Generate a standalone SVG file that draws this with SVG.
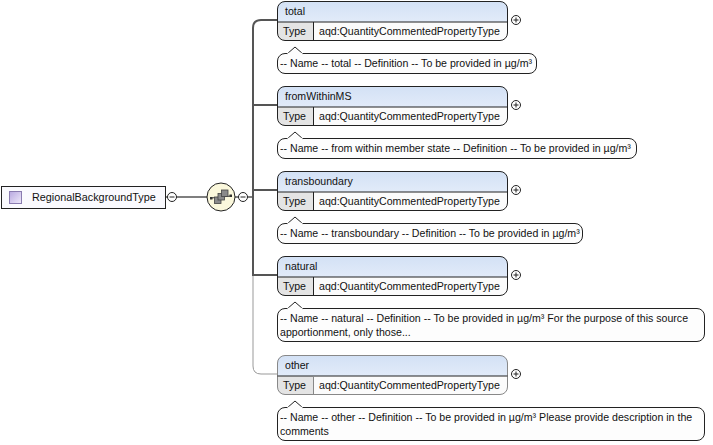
<svg xmlns="http://www.w3.org/2000/svg" width="713" height="445" viewBox="0 0 713 445">
<defs>
<linearGradient id="sq" x1="0" y1="0" x2="1" y2="1"><stop offset="0" stop-color="#b8a8e0"/><stop offset="1" stop-color="#efeafa"/></linearGradient>
<linearGradient id="hd" x1="0" y1="0" x2="0" y2="1"><stop offset="0" stop-color="#d3e1f5"/><stop offset="1" stop-color="#e2ebf9"/></linearGradient>
</defs>
<style>
text{font-family:"Liberation Sans",Arial,sans-serif;font-size:10.6px;fill:#111}
.eb{fill:none;stroke:#222;stroke-width:1}
.ebo{fill:none;stroke:#888;stroke-width:1}
.hd{fill:url(#hd)}
.tc{fill:#e4e4e4}
.vc{fill:#fbfbfb}
.sep{stroke:#222;stroke-width:1}
.sepo{stroke:#888;stroke-width:1}
.cm{fill:#fdfdfd;stroke:#222;stroke-width:1}
.pc{fill:#fff;stroke:#222;stroke-width:1}
.ln{fill:none;stroke:#555;stroke-width:2}
.lno{fill:none;stroke:#999;stroke-width:1}
.sqr{fill:#8a8a8a;stroke:#444;stroke-width:0.8}
</style>
<rect width="713" height="445" fill="#fff"/>

<g id="connectors">
<line x1="166" y1="197" x2="207" y2="197" class="ln" style="stroke-width:1.5"/>
<line x1="235" y1="197" x2="252" y2="197" class="ln" style="stroke-width:1.5"/>
<path d="M277,20 H261 Q253,20 253,28 V275 H277" class="ln"/>
<line x1="253" y1="105" x2="277" y2="105" class="ln"/>
<line x1="253" y1="190" x2="277" y2="190" class="ln"/>
<path d="M253,276 V366 Q253,374 261,374 H277" class="lno"/>
</g>

<g id="root">
<rect x="1.5" y="186.5" width="164" height="22" fill="#fafafe" stroke="#222"/>
<rect x="9.5" y="191.5" width="12" height="12" fill="url(#sq)" stroke="#8a7cb0"/>
<text x="32" y="201" style="font-size:10.8px">RegionalBackgroundType</text>
<circle cx="172" cy="197" r="4.5" class="pc"/>
<line x1="169.5" y1="197" x2="174.5" y2="197" stroke="#222"/>
</g>

<g id="sequence">
<ellipse cx="221" cy="197" rx="14" ry="14" fill="#fbf8dc" stroke="#222"/>
<line x1="211" y1="198" x2="231" y2="196" stroke="#333"/>
<rect x="210" y="197" width="2.5" height="2.5" fill="#333"/>
<rect x="229.5" y="194.5" width="2.5" height="2.5" fill="#333"/>
<rect x="214.5" y="197" width="6.5" height="6.5" class="sqr"/>
<rect x="218" y="193.5" width="6.5" height="6.5" class="sqr"/>
<rect x="221.5" y="190" width="6.5" height="6.5" class="sqr"/>
<circle cx="243" cy="197" r="4.5" class="pc"/>
<line x1="240.5" y1="197" x2="245.5" y2="197" stroke="#222"/>
</g>

<g id="total">
<path d="M277.5,22 V9 Q277.5,1.5 285,1.5 H500 Q507.5,1.5 507.5,9 V22 Z" class="hd"/>
<path d="M277.5,22 V33 Q277.5,40.5 285,40.5 H313.5 V22 Z" class="tc"/>
<path d="M313.5,22 V40.5 H500 Q507.5,40.5 507.5,33 V22 Z" class="vc"/>
<rect x="277.5" y="1.5" width="230" height="39" rx="7.5" class="eb"/>
<line x1="277.5" y1="22" x2="507.5" y2="22" class="sep"/>
<line x1="313.5" y1="22" x2="313.5" y2="40.5" class="sep"/>
<text x="285" y="15">total</text>
<text x="283" y="35">Type</text>
<text x="319" y="35">aqd:QuantityCommentedPropertyType</text>
<circle cx="516" cy="20" r="4.5" class="pc"/>
<path d="M513.5,20 H518.5 M516,17.5 V22.5" stroke="#222"/>
<rect x="277.5" y="53.5" width="259" height="20" rx="7.5" class="cm"/>
<path d="M287,54 L295,47 L303,54" class="cm"/>
<line x1="287.5" y1="53.5" x2="302.5" y2="53.5" stroke="#fdfdfd" stroke-width="1.4"/>
<text x="280" y="67">-- Name -- total -- Definition -- To be provided in µg/m³</text>
</g>

<g id="fromWithinMS">
<path d="M277.5,107 V94 Q277.5,86.5 285,86.5 H500 Q507.5,86.5 507.5,94 V107 Z" class="hd"/>
<path d="M277.5,107 V118 Q277.5,125.5 285,125.5 H313.5 V107 Z" class="tc"/>
<path d="M313.5,107 V125.5 H500 Q507.5,125.5 507.5,118 V107 Z" class="vc"/>
<rect x="277.5" y="86.5" width="230" height="39" rx="7.5" class="eb"/>
<line x1="277.5" y1="107" x2="507.5" y2="107" class="sep"/>
<line x1="313.5" y1="107" x2="313.5" y2="125.5" class="sep"/>
<text x="285" y="100">fromWithinMS</text>
<text x="283" y="120">Type</text>
<text x="319" y="120">aqd:QuantityCommentedPropertyType</text>
<circle cx="516" cy="105" r="4.5" class="pc"/>
<path d="M513.5,105 H518.5 M516,102.5 V107.5" stroke="#222"/>
<rect x="277.5" y="138.5" width="359" height="20" rx="7.5" class="cm"/>
<path d="M287,139 L295,132 L303,139" class="cm"/>
<line x1="287.5" y1="138.5" x2="302.5" y2="138.5" stroke="#fdfdfd" stroke-width="1.4"/>
<text x="280" y="152">-- Name -- from within member state -- Definition -- To be provided in µg/m³</text>
</g>

<g id="transboundary">
<path d="M277.5,192 V179 Q277.5,171.5 285,171.5 H500 Q507.5,171.5 507.5,179 V192 Z" class="hd"/>
<path d="M277.5,192 V203 Q277.5,210.5 285,210.5 H313.5 V192 Z" class="tc"/>
<path d="M313.5,192 V210.5 H500 Q507.5,210.5 507.5,203 V192 Z" class="vc"/>
<rect x="277.5" y="171.5" width="230" height="39" rx="7.5" class="eb"/>
<line x1="277.5" y1="192" x2="507.5" y2="192" class="sep"/>
<line x1="313.5" y1="192" x2="313.5" y2="210.5" class="sep"/>
<text x="285" y="185">transboundary</text>
<text x="283" y="205">Type</text>
<text x="319" y="205">aqd:QuantityCommentedPropertyType</text>
<circle cx="516" cy="190" r="4.5" class="pc"/>
<path d="M513.5,190 H518.5 M516,187.5 V192.5" stroke="#222"/>
<rect x="277.5" y="223.5" width="305" height="20" rx="7.5" class="cm"/>
<path d="M287,224 L295,217 L303,224" class="cm"/>
<line x1="287.5" y1="223.5" x2="302.5" y2="223.5" stroke="#fdfdfd" stroke-width="1.4"/>
<text x="280" y="237">-- Name -- transboundary -- Definition -- To be provided in µg/m³</text>
</g>

<g id="natural">
<path d="M277.5,277 V264 Q277.5,256.5 285,256.5 H500 Q507.5,256.5 507.5,264 V277 Z" class="hd"/>
<path d="M277.5,277 V288 Q277.5,295.5 285,295.5 H313.5 V277 Z" class="tc"/>
<path d="M313.5,277 V295.5 H500 Q507.5,295.5 507.5,288 V277 Z" class="vc"/>
<rect x="277.5" y="256.5" width="230" height="39" rx="7.5" class="eb"/>
<line x1="277.5" y1="277" x2="507.5" y2="277" class="sep"/>
<line x1="313.5" y1="277" x2="313.5" y2="295.5" class="sep"/>
<text x="285" y="270">natural</text>
<text x="283" y="290">Type</text>
<text x="319" y="290">aqd:QuantityCommentedPropertyType</text>
<circle cx="516" cy="275" r="4.5" class="pc"/>
<path d="M513.5,275 H518.5 M516,272.5 V277.5" stroke="#222"/>
<rect x="277.5" y="308.5" width="427" height="33" rx="7.5" class="cm"/>
<path d="M287,309 L295,302 L303,309" class="cm"/>
<line x1="287.5" y1="308.5" x2="302.5" y2="308.5" stroke="#fdfdfd" stroke-width="1.4"/>
<text x="280" y="322">-- Name -- natural -- Definition -- To be provided in µg/m³ For the purpose of this source</text>
<text x="280" y="336">apportionment, only those...</text>
</g>

<g id="other">
<path d="M277.5,376 V363 Q277.5,355.5 285,355.5 H500 Q507.5,355.5 507.5,363 V376 Z" class="hd"/>
<path d="M277.5,376 V387 Q277.5,394.5 285,394.5 H313.5 V376 Z" class="tc"/>
<path d="M313.5,376 V394.5 H500 Q507.5,394.5 507.5,387 V376 Z" class="vc"/>
<rect x="277.5" y="355.5" width="230" height="39" rx="7.5" class="ebo"/>
<line x1="277.5" y1="376" x2="507.5" y2="376" class="sep"/>
<line x1="313.5" y1="376" x2="313.5" y2="394.5" class="sepo"/>
<text x="285" y="369">other</text>
<text x="283" y="389">Type</text>
<text x="319" y="389">aqd:QuantityCommentedPropertyType</text>
<circle cx="516" cy="374" r="4.5" class="pc"/>
<path d="M513.5,374 H518.5 M516,371.5 V376.5" stroke="#222"/>
<rect x="277.5" y="407.5" width="427" height="33" rx="7.5" class="cm"/>
<path d="M287,408 L295,401 L303,408" class="cm"/>
<line x1="287.5" y1="407.5" x2="302.5" y2="407.5" stroke="#fdfdfd" stroke-width="1.4"/>
<text x="280" y="421">-- Name -- other -- Definition -- To be provided in µg/m³ Please provide description in the</text>
<text x="280" y="435">comments</text>
</g>
</svg>
